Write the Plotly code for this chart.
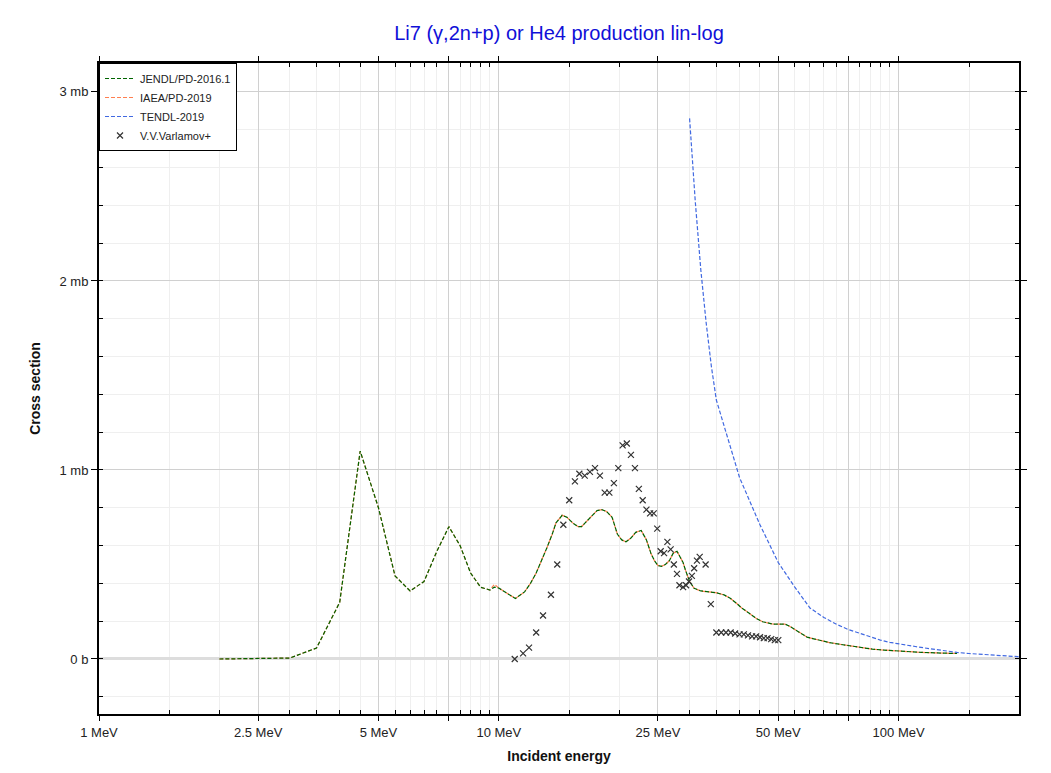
import plotly.graph_objects as go

# ---------------- data (energy in MeV, cross section in mb) ----------------
jendl_e = [2.0, 2.5, 3.0, 3.5, 4.0, 4.5, 5.0, 5.5, 6.0, 6.5, 7.0, 7.5, 8.0, 8.5, 9.0, 9.5, 9.75, 10.0,
           10.5, 11.0, 11.6, 12.0, 12.4, 12.8, 13.2, 13.6, 13.9, 14.4, 14.8, 15.3, 15.8, 16.1, 16.6,
           17.1, 17.6, 18.1, 18.6, 19.2, 19.5, 19.8, 20.3, 20.8, 21.4, 22.0, 22.7, 23.4, 24.0, 24.5,
           25.0, 25.5, 26.1, 26.7, 27.3, 27.9, 28.4, 28.9, 29.3, 30.0, 30.8, 32.0, 33.5, 34.9, 36.6,
           38.0, 39.3, 40.5, 42.3, 44.0, 45.7, 47.0, 48.4, 50.0, 51.9, 53.2, 54.4, 56.0, 57.5, 59.0,
           61.0, 64.0, 67.1, 71.2, 75.0, 80.0, 86.0, 92.0, 99.0, 106.0, 114.0, 125.0, 140.0]
jendl_xs = [0.0, 0.002, 0.005, 0.058, 0.30, 1.10, 0.80, 0.44, 0.36, 0.41, 0.57, 0.70, 0.60, 0.455, 0.38, 0.365, 0.38, 0.375,
            0.345, 0.32, 0.355, 0.40, 0.455, 0.52, 0.59, 0.66, 0.72, 0.76, 0.75, 0.72, 0.70, 0.70, 0.73,
            0.76, 0.785, 0.79, 0.78, 0.75, 0.70, 0.66, 0.63, 0.62, 0.64, 0.67, 0.68, 0.63, 0.56, 0.52,
            0.495, 0.49, 0.50, 0.52, 0.56, 0.57, 0.54, 0.51, 0.47, 0.41, 0.374, 0.36, 0.355, 0.351, 0.339,
            0.32, 0.295, 0.27, 0.242, 0.215, 0.197, 0.19, 0.185, 0.184, 0.185, 0.175, 0.162, 0.143, 0.127, 0.116,
            0.108, 0.096, 0.087, 0.078, 0.071, 0.062, 0.052, 0.047, 0.042, 0.039, 0.035, 0.032, 0.029]

iaea_e = list(jendl_e)
iaea_xs = [0.0, 0.002, 0.005, 0.058, 0.30, 1.10, 0.80, 0.44, 0.36, 0.41, 0.57, 0.70, 0.60, 0.455, 0.38, 0.365, 0.395, 0.375,
           0.345, 0.32, 0.355, 0.40, 0.455, 0.52, 0.59, 0.66, 0.72, 0.76, 0.75, 0.72, 0.70, 0.70, 0.73,
           0.76, 0.785, 0.79, 0.78, 0.75, 0.70, 0.66, 0.63, 0.62, 0.64, 0.67, 0.68, 0.63, 0.56, 0.52,
           0.495, 0.49, 0.50, 0.52, 0.56, 0.57, 0.54, 0.51, 0.47, 0.41, 0.374, 0.36, 0.355, 0.351, 0.339,
           0.32, 0.295, 0.27, 0.242, 0.215, 0.197, 0.19, 0.185, 0.184, 0.185, 0.175, 0.162, 0.143, 0.127, 0.116,
           0.108, 0.096, 0.087, 0.078, 0.071, 0.062, 0.052, 0.047, 0.042, 0.039, 0.035, 0.032, 0.029]

tendl_e = [30, 31, 32, 33, 34, 35, 40, 45, 50, 55, 60, 65, 70, 75, 80, 85, 90, 95, 100,
           110, 120, 130, 140, 150, 160, 175, 200]
tendl_xs = [2.86, 2.42, 2.06, 1.78, 1.55, 1.37, 0.96, 0.71, 0.51, 0.38, 0.27, 0.22, 0.183, 0.155, 0.136,
            0.116, 0.10, 0.088, 0.079, 0.066, 0.054, 0.043, 0.035, 0.029, 0.025, 0.019, 0.012]

varl_e = [10.96, 11.5, 11.9, 12.4, 12.9, 13.5, 14.0, 14.5, 15.0, 15.5, 15.9, 16.4, 16.9, 17.4, 17.9,
          18.4, 18.9, 19.4, 19.9, 20.4, 20.9, 21.4, 21.9, 22.4, 22.9, 23.4, 23.9, 24.4, 24.9, 25.4,
          25.9, 26.4, 26.9, 27.4, 27.9, 28.3, 28.9, 29.4, 29.9, 30.4, 30.8, 31.3, 31.8, 32.9, 33.9,
          35, 36, 37, 38, 39, 40, 41, 42, 43, 44, 45, 46, 47, 48, 49, 50]
varl_xs = [0.0, 0.03, 0.06, 0.14, 0.23, 0.34, 0.50, 0.71, 0.84, 0.94, 0.98, 0.97, 0.99, 1.01, 0.97,
           0.88, 0.88, 0.93, 1.01, 1.13, 1.14, 1.08, 1.01, 0.90, 0.84, 0.79, 0.77, 0.77, 0.69, 0.57,
           0.56, 0.62, 0.58, 0.50, 0.45, 0.39, 0.38, 0.39, 0.41, 0.44, 0.48, 0.52, 0.54, 0.50, 0.29,
           0.14, 0.14, 0.14, 0.14, 0.135, 0.13, 0.13, 0.125, 0.12, 0.12, 0.115, 0.11, 0.11, 0.105, 0.10, 0.10]

x_tickvals = [1, 2.5, 5, 7.5, 10, 25, 50, 75, 100]
x_ticktext = ["1 MeV", "2.5 MeV", "5 MeV", "", "10 MeV", "25 MeV", "50 MeV", "", "100 MeV"]
x_minorvals = [1.5, 2, 3, 3.5, 4, 4.5, 5.5, 6, 6.5, 7, 8, 8.5, 9, 9.5, 15, 20, 30, 35, 40, 45,
               55, 60, 65, 70, 80, 85, 90, 95, 150]
y_tickvals = [0, 1, 2, 3]
y_ticktext = ["0 b", "1 mb", "2 mb", "3 mb"]

# ---------------- figure ----------------
DASH = "4px,2px"
LW = 1.2
fig = go.Figure()
# IAEA drawn first so the JENDL line lies on top of it
fig.add_trace(go.Scatter(x=iaea_e, y=iaea_xs, mode="lines", name="IAEA/PD-2019", legendrank=2,
                         line=dict(color="coral", width=LW, dash=DASH)))
fig.add_trace(go.Scatter(x=jendl_e, y=jendl_xs, mode="lines", name="JENDL/PD-2016.1", legendrank=1,
                         line=dict(color="darkgreen", width=LW, dash=DASH)))
fig.add_trace(go.Scatter(x=tendl_e, y=tendl_xs, mode="lines", name="TENDL-2019", legendrank=3,
                         line=dict(color="royalblue", width=LW, dash=DASH)))
fig.add_trace(go.Scatter(x=varl_e, y=varl_xs, mode="markers", name="V.V.Varlamov+", legendrank=4,
                         marker=dict(symbol="x-thin", size=6, color="#333333",
                                     line=dict(width=1.2, color="#333333"))))

FONT = "Liberation Sans, Arial, sans-serif"
axis_font = dict(family=FONT, size=13, color="#222")

fig.update_layout(
    width=1051, height=773,
    margin=dict(l=99, r=32, t=63, b=59),
    paper_bgcolor="white", plot_bgcolor="white",
    font=dict(family=FONT, size=12, color="#222"),
    title=dict(text="Li7 (γ,2n+p) or He4 production lin-log", x=0.5, xref="paper",
               xanchor="center", y=1 - 33 / 773, yref="container", yanchor="middle",
               font=dict(size=20, color="#1010d8")),
    showlegend=True,
    legend=dict(x=0, y=1, xanchor="left", yanchor="top", bgcolor="white",
                bordercolor="black", borderwidth=1, font=dict(size=11, color="#222"),
                traceorder="normal", tracegroupgap=0),
    xaxis=dict(type="log", range=[0, 2.30103], tickmode="array", tickvals=x_tickvals,
               ticktext=x_ticktext, ticks="outside", ticklen=5, tickcolor="black",
               showline=True, linecolor="black", linewidth=2, mirror="ticks",
               showgrid=True, gridcolor="#d0d0d0", gridwidth=1, automargin=False,
               tickfont=axis_font,
               minor=dict(tickmode="array", tickvals=x_minorvals, ticks="inside", ticklen=4,
                          tickcolor="black", showgrid=True, gridcolor="#efefef", gridwidth=1),
               title=dict(text="<b>Incident energy</b>", font=dict(family=FONT, size=14, color="#111"),
                          standoff=13),
               zeroline=False),
    yaxis=dict(range=[-0.291, 3.153], tickmode="array", tickvals=y_tickvals, ticktext=y_ticktext,
               ticks="outside", ticklen=6, tickcolor="black",
               showline=True, linecolor="black", linewidth=2, mirror="ticks",
               showgrid=True, gridcolor="#d0d0d0", gridwidth=1, automargin=False,
               tickfont=axis_font,
               minor=dict(dtick=0.2, tick0=0, ticks="inside", ticklen=4, tickcolor="black",
                          showgrid=True, gridcolor="#efefef", gridwidth=1),
               zeroline=True, zerolinecolor="#dddddd", zerolinewidth=3,
               title=dict(text="<b>Cross section</b>", font=dict(family=FONT, size=14, color="#111"),
                          standoff=16)),
)

fig.write_html("out.html", config={"displayModeBar": False},
               post_script="document.body.style.margin='0';")
